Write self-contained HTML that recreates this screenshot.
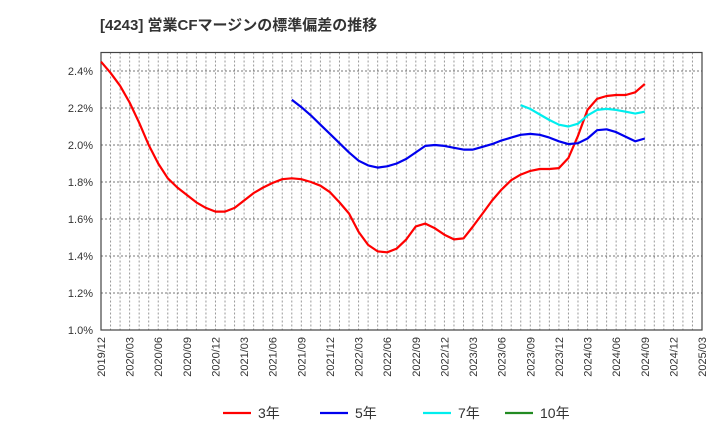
<!DOCTYPE html>
<html><head><meta charset="utf-8"><style>
body{margin:0;background:#fff;font-family:"Liberation Sans","Noto Sans CJK JP",sans-serif;}
svg text{font-family:"Liberation Sans","Noto Sans CJK JP",sans-serif;}
</style></head><body>
<svg id="c" width="720" height="440" xmlns="http://www.w3.org/2000/svg">
<text x="100" y="30" font-size="15" font-weight="bold" fill="#333">[4243]  営業CFマージンの標準偏差の推移</text>
<g id="grid"></g><g id="axes"></g><g id="series"></g><g id="legend"></g>
</svg>
<script>
const xTicks=["2019/12","2020/03","2020/06","2020/09","2020/12","2021/03","2021/06","2021/09","2021/12","2022/03","2022/06","2022/09","2022/12","2023/03","2023/06","2023/09","2023/12","2024/03","2024/06","2024/09","2024/12","2025/03"];
const yTicks=[1.0,1.2,1.4,1.6,1.8,2.0,2.2,2.4];
const s3Start=0;
const s3=[2.45,2.39,2.32,2.23,2.12,2.00,1.90,1.82,1.77,1.73,1.69,1.66,1.64,1.64,1.66,1.70,1.74,1.77,1.795,1.815,1.82,1.815,1.80,1.78,1.745,1.69,1.63,1.53,1.46,1.425,1.42,1.44,1.49,1.56,1.575,1.55,1.515,1.49,1.495,1.56,1.63,1.70,1.76,1.81,1.84,1.86,1.87,1.87,1.875,1.93,2.05,2.19,2.25,2.265,2.27,2.27,2.285,2.33];
const s5Start=20;
const s5=[2.245,2.205,2.16,2.11,2.06,2.01,1.96,1.915,1.89,1.878,1.885,1.90,1.925,1.96,1.995,2.0,1.995,1.985,1.975,1.975,1.99,2.005,2.025,2.04,2.055,2.06,2.055,2.04,2.02,2.005,2.01,2.035,2.08,2.085,2.07,2.045,2.02,2.035];
const s7Start=44;
const s7=[2.215,2.195,2.165,2.135,2.11,2.10,2.115,2.16,2.19,2.195,2.19,2.18,2.17,2.18];
const s10Start=0;
const s10=[];
const L=101,R=702,T=52.5,B=330,months=63,ymin=1.0,ymax=2.5;
const xs=i=>L+(R-L)*i/months;
const ys=v=>B-(B-T)*(v-ymin)/(ymax-ymin);
const NS="http://www.w3.org/2000/svg";
function mk(t,a,p){const e=document.createElementNS(NS,t);for(const k in a)e.setAttribute(k,a[k]);p.appendChild(e);return e;}
const grid=document.getElementById('grid'),axes=document.getElementById('axes'),ser=document.getElementById('series'),leg=document.getElementById('legend');
for(let m=1;m<months;m++){const l=mk('line',{x1:xs(m),x2:xs(m),y1:T,y2:B,stroke:'#999','stroke-dasharray':'2,2','stroke-width':1},grid);

}
yTicks.forEach(v=>{if(v>ymin){const l=mk('line',{x1:L,x2:R,y1:ys(v),y2:ys(v),stroke:'#777','stroke-dasharray':'2,2','stroke-width':1},grid);

}
const t=mk('text',{x:93,y:ys(v)+4,'font-size':11,'text-anchor':'end',fill:'#333'},axes);t.textContent=v.toFixed(1)+'%';

});
xTicks.forEach((s,i)=>{const x=xs(i*3);const t=mk('text',{x:0,y:0,'font-size':11,'text-anchor':'end',fill:'#333',transform:`translate(${x+4},337) rotate(-90)`},axes);t.textContent=s;

});
const fr=mk('rect',{x:L,y:T,width:R-L,height:B-T,fill:'none',stroke:'#444','stroke-width':1.2},axes);


function line(data,start,color,name){if(!data.length)return;const p=data.map((v,i)=>xs(start+i).toFixed(1)+','+ys(v).toFixed(1)).join(' ');
const e=mk('polyline',{points:p,fill:'none',stroke:color,'stroke-width':2.2,'stroke-linejoin':'round'},ser);

}
line(s3,s3Start,'#ff0000','series-3y');
line(s5,s5Start,'#0000ee','series-5y');
line(s7,s7Start,'#00eeee','series-7y');
line(s10,s10Start,'#228b22','series-10y');
const items=[['3年','#ff0000',223],['5年','#0000ee',320],['7年','#00eeee',423],['10年','#228b22',505]];
items.forEach(([lab,c,x])=>{const g=mk('g',{},leg);


mk('line',{x1:x,x2:x+28,y1:413,y2:413,stroke:c,'stroke-width':2.2},g);
const t=mk('text',{x:x+35,y:418,'font-size':14,fill:'#333'},g);t.textContent=lab;});
</script>
</body></html>
